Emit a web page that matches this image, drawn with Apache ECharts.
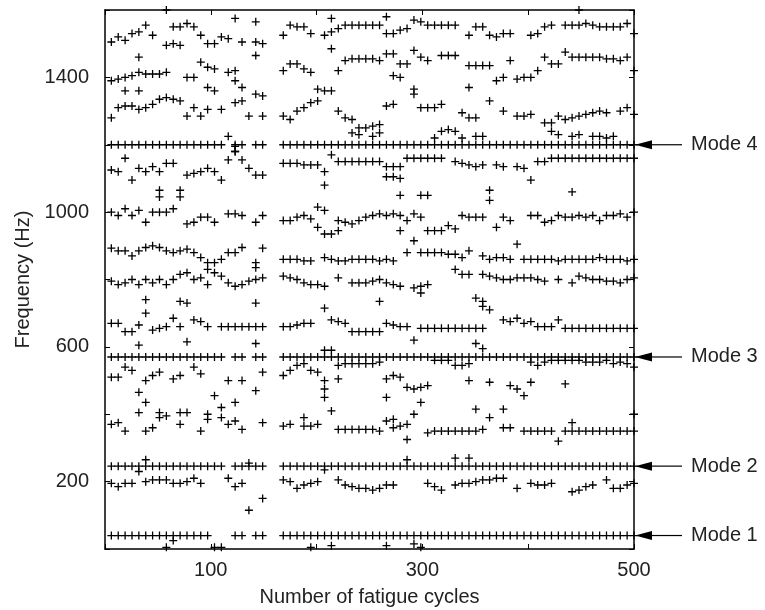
<!DOCTYPE html>
<html>
<head>
<meta charset="utf-8">
<script src="https://cdn.jsdelivr.net/npm/echarts@6/dist/echarts.min.js"></script>
<style>
html, body { margin: 0; padding: 0; background: #fff; }
#chart { width: 765px; height: 610px; }
</style>
</head>
<body>
<div id="chart"></div>
<script>
var _ = null

// fatigue cycle at which each spectrum was taken
var cycles = [6, 12.5, 19, 25.5, 32, 38.5, 45, 51.5, 58, 64.5,
    71, 77.5, 84, 90.5, 97, 103.5, 110, 116.5, 123, 129.5,
    136, 142.5, 149, 155.5, 162, 168.5, 175, 181.5, 188, 194.5,
    201, 207.5, 214, 220.5, 227, 233.5, 240, 246.5, 253, 259.5,
    266, 272.5, 279, 285.5, 292, 298.5, 305, 311.5, 318, 324.5,
    331, 337.5, 344, 350.5, 357, 363.5, 370, 376.5, 383, 389.5,
    396, 402.5, 409, 415.5, 422, 428.5, 435, 441.5, 448, 454.5,
    461, 467.5, 474, 480.5, 487, 493.5, 500]

var xTickLabels = [100, 300, 500]
var yTickLabels = [200, 600, 1000, 1400]

// identified modes (Hz)
var modeNames = ['Mode 1', 'Mode 2', 'Mode 3', 'Mode 4']
var modeFreqs = [40, 246, 570, 1200]

// frequencies per cycle (one entry per cycle, null = no peak)
var mode1 = [40, 40, 40, 40, 40, 40, 40, 40, 40, 40,
    40, 40, 40, 40, 40, _, _, _, 40, 40,
    _, 40, 40, _, _, 40, 40, 40, 40, 40,
    40, 40, 40, 40, 40, 40, 40, 40, 40, 40,
    40, 40, 40, 40, 40, 40, 40, 40, 40, 40,
    40, 40, 40, 40, 40, 40, 40, 40, 40, 40,
    40, 40, 40, 40, 40, 40, 40, 40, 40, 40,
    40, 40, 40, 40, 40, 40, 40]
var mode2 = [246, 246, 246, 246, 246, 246, 246, 246, 246, 246,
    246, 246, 246, 246, 246, 246, 246, _, 246, 246,
    246, 246, 246, _, _, 246, 246, 246, 246, 246,
    246, 246, 246, 246, 246, 246, 246, 246, 246, 246,
    246, 246, 246, 246, 246, 246, 246, 246, 246, 246,
    246, 246, 246, 246, 246, 246, 246, 246, 246, 246,
    246, 246, 246, 246, 246, 246, 246, 246, 246, 246,
    246, 246, 246, 246, 246, 246, 246]
var mode3 = [570, 570, 570, 570, 570, 570, 570, 570, 570, 570,
    570, 570, 570, 570, 570, 570, 570, _, 570, 570,
    _, 570, 570, _, _, 570, 570, 570, 570, 570,
    570, 570, 570, 570, 570, 570, 570, 570, 570, 570,
    570, 570, 570, 570, 570, 570, 570, 570, 570, 570,
    570, 570, 570, 570, 570, 570, 570, 570, 570, 570,
    570, 570, 570, 570, 570, 570, 570, 570, 570, 570,
    570, 570, 570, 570, 570, 570, 570]
var mode4 = [1200, 1200, 1200, 1200, 1200, 1200, 1200, 1200, 1200, 1200,
    1200, 1200, 1200, 1200, 1200, 1200, 1200, _, 1200, 1200,
    _, 1200, 1200, _, _, 1200, 1200, 1200, 1200, 1200,
    1200, 1200, 1200, 1200, 1200, 1200, 1200, 1200, 1200, 1200,
    1200, 1200, 1200, 1200, 1200, 1200, 1200, 1200, 1200, 1200,
    1200, 1200, 1200, 1200, 1200, 1200, 1200, 1200, 1200, 1200,
    1200, 1200, 1200, 1200, 1200, 1200, 1200, 1200, 1200, 1200,
    1200, 1200, 1200, 1200, 1200, 1200, 1200]

var peaksA = [1505, 1520, 1510, 1530, 1535, 1555, 1525, _, _, 1550,
    1550, 1560, 1550, 1525, 1500, 1500, 1520, 1515, _, 1505,
    _, 1505, 1500, _, _, 1525, 1555, 1550, 1550, 1530,
    _, 1525, 1535, 1545, 1555, 1555, 1555, 1555, 1555, 1555,
    1530, 1530, 1540, 1545, 1570, 1565, 1555, 1555, 1555, 1555,
    1555, _, 1525, 1550, 1550, 1525, 1520, 1530, 1530, _,
    _, 1525, 1530, 1550, 1555, _, 1555, 1555, 1555, 1560,
    1555, 1550, 1550, 1550, 1550, 1560, 1530]
var peaksB = [_, _, _, _, 1460, _, _, _, 1495, 1500,
    1495, _, _, 1445, 1430, 1425, _, 1415, 1420, _,
    _, 1465, _, _, _, 1420, 1440, 1440, 1425, 1415,
    _, _, 1485, 1420, 1450, 1455, 1455, 1455, 1455, 1450,
    1470, 1470, 1440, 1440, 1480, 1460, 1450, _, 1465, 1465,
    1465, _, 1435, 1435, 1435, 1435, _, _, 1450, _,
    _, _, 1420, 1460, 1440, 1440, 1475, 1460, 1460, 1460,
    1460, 1460, 1455, 1455, 1450, 1460, 1420]
var peaksC = [1390, 1395, 1400, 1405, 1415, 1410, 1410, 1410, 1415, _,
    _, 1400, 1400, _, 1370, _, _, _, 1390, 1370,
    _, 1350, 1345, _, _, _, _, _, _, _,
    1365, 1360, 1360, _, _, _, _, _, _, _,
    _, 1405, 1400, _, 1365, _, _, _, _, _,
    _, _, 1370, _, _, _, 1390, 1400, _, 1395,
    1400, 1400, _, _, _, _, _, _, _, _,
    _, _, _, _, _, _, _]
var peaksD = [1280, 1310, 1315, 1315, 1305, 1310, 1320, 1335, 1340, 1335,
    1330, 1285, 1310, 1285, 1305, _, 1305, _, 1325, 1330,
    1285, _, 1285, _, _, 1285, 1275, 1300, 1310, 1325,
    1330, _, _, 1300, 1280, 1275, 1250, 1250, 1255, 1260,
    1315, 1320, _, _, 1350, 1310, 1310, 1310, 1320, _,
    _, 1295, 1280, 1280, _, 1330, _, 1300, _, 1285,
    1285, 1290, _, 1265, 1265, 1285, 1275, 1280, 1285, 1290,
    1295, 1300, 1295, _, 1300, 1310, 1290]
var peaksE = [1125, 1120, 1160, 1095, 1130, 1120, 1135, 1120, 1145, 1145,
    _, 1110, 1115, 1120, 1130, 1120, 1095, 1155, 1180, 1155,
    1130, 1110, 1110, _, _, 1145, 1145, 1145, 1140, 1140,
    1140, 1120, 1170, 1150, 1150, 1150, 1150, 1150, 1150, 1150,
    1135, 1135, 1135, 1160, 1160, 1160, 1160, 1160, 1160, _,
    1150, 1145, 1140, 1135, 1140, _, 1140, 1135, _, 1135,
    1130, _, 1150, 1150, 1160, 1160, 1160, 1160, 1160, 1160,
    1160, 1160, 1160, 1160, 1160, 1160, 1160]
var peaksG = [1000, 990, 1010, 990, 1005, 970, 1000, 1000, 1000, 1010,
    _, 965, 970, 985, 985, 970, _, 995, 995, 990,
    _, 970, 990, _, _, 975, 975, 985, 990, 980,
    1015, 1005, _, 975, 970, 965, 975, 985, 990, 995,
    990, 995, 990, 975, 995, 985, _, _, _, _,
    _, 990, 985, 985, 985, _, 955, 985, 975, _,
    _, 990, 990, 970, 975, 990, 985, 985, 990, 985,
    990, 975, 990, 990, 995, 985, 1000]
var peaksH = [893, 885, 885, 870, 885, 895, 900, 895, 885, 880,
    885, 890, 880, 865, 850, 850, 860, 880, 880, 895,
    _, 850, 893, _, _, 860, 860, 860, 855, 855,
    _, 865, 860, 855, 855, 860, 860, 860, 860, 855,
    860, 855, _, 880, 915, 880, 880, 880, 880, 875,
    875, 865, 885, _, 870, 860, 865, 865, 860, 905,
    860, 860, 860, 860, 860, 855, 860, 860, 860, 860,
    860, 865, 860, 860, 860, 855, 860]
var peaksI = [795, 785, 790, 800, 785, 800, 790, 800, 785, 800,
    815, 820, 800, 805, 785, _, 810, 790, 780, 785,
    795, 800, 805, _, _, 810, 805, 800, 790, 785,
    785, 780, _, 805, _, 790, 790, 790, 795, 800,
    790, 785, 780, _, 775, 780, 785, _, _, _,
    830, 815, 815, _, 815, 810, 805, 800, 800, 805,
    805, 805, 800, 795, _, 800, _, 790, 810, 805,
    800, 800, 795, 795, 790, 800, 805]
var peaksJ = [670, 670, 645, 645, 665, 700, 650, 655, 660, 685,
    660, 615, 680, 675, 660, _, 660, 660, 660, 660,
    660, 660, 660, _, _, 660, 660, 665, 670, 670,
    _, _, 680, 675, 670, 645, 645, 645, 645, 645,
    670, 665, 660, 660, 620, 655, 655, 655, 655, 655,
    655, 655, 655, 655, 655, _, _, 680, 675, 685,
    670, 675, 660, 660, 660, 680, 655, 655, 655, 655,
    655, 655, 655, 655, 655, 655, 655]
var peaksK = [510, 510, 540, 530, _, 500, 515, 525, _, 505,
    515, _, 540, 520, _, _, _, 500, _, 500,
    _, _, 525, _, _, 515, 530, 545, 550, 530,
    525, 500, _, 505, _, _, _, _, _, _,
    505, 515, 510, 480, 475, 480, 485, _, _, _,
    _, _, 500, _, _, 495, _, _, 485, 475,
    455, 495, _, _, _, _, 490, _, _, _,
    _, _, _, _, _, _, _]
var peaksM = [370, 375, 350, _, _, 350, 360, 390, _, _,
    370, _, _, 350, 385, _, _, 370, 380, 355,
    _, _, 375, _, _, 365, 370, _, 365, 365,
    370, _, _, 355, 355, 355, 355, 355, 355, 350,
    380, 360, 365, 370, _, _, 345, 350, 350, 350,
    350, 350, 350, 350, 355, _, _, 360, 360, _,
    350, 350, 350, 350, 350, 320, 350, 350, 350, 350,
    350, 350, 350, 350, 350, 350, 350]
var peaksN = [195, 185, 195, 195, _, 200, 205, 205, 205, 195,
    195, 200, 210, 195, _, _, _, 210, 185, 195,
    _, _, _, _, _, 205, 200, 180, 190, 195,
    200, _, _, 205, 190, 185, 180, 180, 175, 180,
    190, 190, _, _, _, _, 195, 185, 175, _,
    190, 195, 195, 200, 205, 205, 210, 210, _, 180,
    _, 195, 190, 190, 195, _, _, 170, 175, 185,
    190, _, 205, 180, 180, 190, 195]

// scattered peaks as [cycle, frequency]
var topPeaks = [[58, 1600], [123, 1575], [142.5, 1565], [214, 1575], [266, 1580], [448, 1600]]
var peaks1360 = [[19, 1360], [32, 1360], [103.5, 1360]]
var crossPeaks = [[116.5, 1225], [123, 1180], [123, 1195], [233.5, 1235], [240, 1230], [253, 1225],
    [259.5, 1235], [311.5, 1220], [318, 1240], [324.5, 1245], [331, 1240], [337.5, 1220],
    [350.5, 1225], [357, 1225], [422, 1240], [428.5, 1230], [441.5, 1225], [448, 1230],
    [461, 1225], [467.5, 1225], [474, 1220], [480.5, 1225]]
var peaks1100 = [[266, 1105], [272.5, 1105], [279, 1100], [402.5, 1095], [207.5, 1080]]
var peaks1055 = [[51.5, 1065], [51.5, 1045], [71, 1065], [71, 1045], [279, 1050], [298.5, 1050],
    [305, 1050], [363.5, 1065], [363.5, 1035], [441.5, 1060]]
var peaks945 = [[201, 955], [207.5, 935], [214, 935], [220.5, 945], [279, 945], [305, 945],
    [311.5, 945], [318, 945], [324.5, 960], [331, 950]]
var peaks830 = [[97, 830], [103.5, 820], [142.5, 835]]
var peaks740 = [[38.5, 740], [71, 735], [77.5, 730], [142.5, 730], [207.5, 715], [259.5, 735],
    [298.5, 760], [350.5, 745], [357, 735], [357, 720], [363.5, 710]]
var peaks555 = [[32, 605], [142.5, 610], [207.5, 590], [214, 590], [220.5, 545], [227, 550],
    [233.5, 550], [240, 550], [246.5, 550], [253, 550], [259.5, 555], [311.5, 560], [318, 560],
    [324.5, 560], [331, 545], [337.5, 545], [344, 550], [350.5, 610], [357, 595], [402.5, 555],
    [409, 545], [415.5, 555], [422, 560], [428.5, 560], [435, 560], [441.5, 560], [448, 560],
    [454.5, 555], [461, 555], [467.5, 555], [474, 560], [480.5, 550], [487, 555], [493.5, 550],
    [500, 540]]
var peaks420 = [[32, 465], [38.5, 435], [32, 405], [51.5, 405], [58, 395], [71, 405], [77.5, 405],
    [97, 400], [103.5, 455], [110, 420], [110, 390], [123, 435], [142.5, 470], [188, 390],
    [207.5, 475], [207.5, 450], [214, 410], [266, 450], [272.5, 385], [292, 400], [298.5, 435],
    [350.5, 415], [363.5, 390], [376.5, 415], [441.5, 375], [500, 400], [285.5, 325]]
var peaks250 = [[32, 230], [38.5, 265], [136, 255], [207.5, 235], [285.5, 265], [331, 270], [344, 270]]
var peaksLow = [[136, 115], [149, 150], [58, 5], [64.5, 25], [103.5, 5], [110, 5], [194.5, 5],
    [214, 10], [266, 10], [292, 15], [298.5, 5]]

function alignToCycles(track) {
    var out = []
    track.forEach(function (f, i) {
        if (f !== null) out.push([cycles[i], f])
    })
    return out
}

var trackList = [mode1, mode2, mode3, mode4, peaksA, peaksB, peaksC, peaksD, peaksE,
    peaksG, peaksH, peaksI, peaksJ, peaksK, peaksM, peaksN].map(alignToCycles)
    .concat([topPeaks, peaks1360, crossPeaks, peaks1100, peaks1055, peaks945, peaks830,
        peaks740, peaks555, peaks420, peaks250, peaksLow])

var plusSymbol = 'path://M0,5L10,5M5,0L5,10'
var font = 'Liberation Sans'
var ink = '#000'

var chart = echarts.init(document.getElementById('chart'))

function frameAxis(extra) {
    return Object.assign({
        axisLine: { onZero: false, lineStyle: { color: '#000', width: 1.5 } },
        axisTick: { inside: true, length: 5, lineStyle: { color: '#000' } },
        splitLine: { show: false }
    }, extra)
}

var option = {
    animation: false,
    backgroundColor: '#fff',
    grid: { left: 105, right: 131, top: 10, bottom: 61, containLabel: false, outerBoundsMode: 'none' },
    xAxis: [
        frameAxis({
            type: 'value', min: 0, max: 500, interval: 100, position: 'bottom',
            axisLabel: {
                margin: 11, color: '#222', fontSize: 20, fontFamily: font,
                formatter: function (v) { return xTickLabels.indexOf(v) >= 0 ? String(v) : '' }
            },
            name: 'Number of fatigue cycles', nameLocation: 'middle', nameGap: 38,
            nameTextStyle: { color: '#222', fontSize: 20, fontFamily: font }
        }),
        frameAxis({
            type: 'value', min: 0, max: 500, interval: 100, position: 'top',
            axisLabel: { show: false }
        })
    ],
    yAxis: [
        frameAxis({
            type: 'value', min: 0, max: 1600, interval: 200, position: 'left',
            axisLabel: {
                margin: 16, color: '#222', fontSize: 20, fontFamily: font,
                formatter: function (v) { return yTickLabels.indexOf(v) >= 0 ? String(v) : '' }
            },
            name: 'Frequency (Hz)', nameLocation: 'middle', nameGap: 70,
            nameTextStyle: { color: '#222', fontSize: 20, fontFamily: font }
        }),
        frameAxis({
            type: 'value', min: 0, max: 1600, interval: 200, position: 'right',
            axisLabel: { show: false }
        })
    ],
    series: trackList.map(function (d) {
        return {
            type: 'scatter',
            data: d,
            symbol: plusSymbol,
            symbolSize: 8,
            silent: true,
            itemStyle: { color: 'transparent', borderColor: ink, borderWidth: 1.3, opacity: 1 }
        }
    })
}
chart.setOption(option)

// mode arrows on the right side
var xEnd = chart.convertToPixel({ xAxisIndex: 0 }, 500)
var gfx = []
modeFreqs.forEach(function (f, k) {
    var y = chart.convertToPixel({ yAxisIndex: 0 }, f)
    gfx.push({ type: 'polygon', shape: { points: [[xEnd + 1, y], [xEnd + 18, y - 4.5], [xEnd + 18, y + 4.5]] }, style: { fill: ink } })
    gfx.push({ type: 'line', shape: { x1: xEnd + 18, y1: y, x2: xEnd + 48, y2: y }, style: { stroke: ink, lineWidth: 1.2 } })
    gfx.push({
        type: 'text', x: xEnd + 57, y: y,
        style: { text: modeNames[k], fontSize: 20, fontFamily: font, fill: '#222', verticalAlign: 'middle' }
    })
})
chart.setOption({ graphic: gfx })
</script>
</body>
</html>
